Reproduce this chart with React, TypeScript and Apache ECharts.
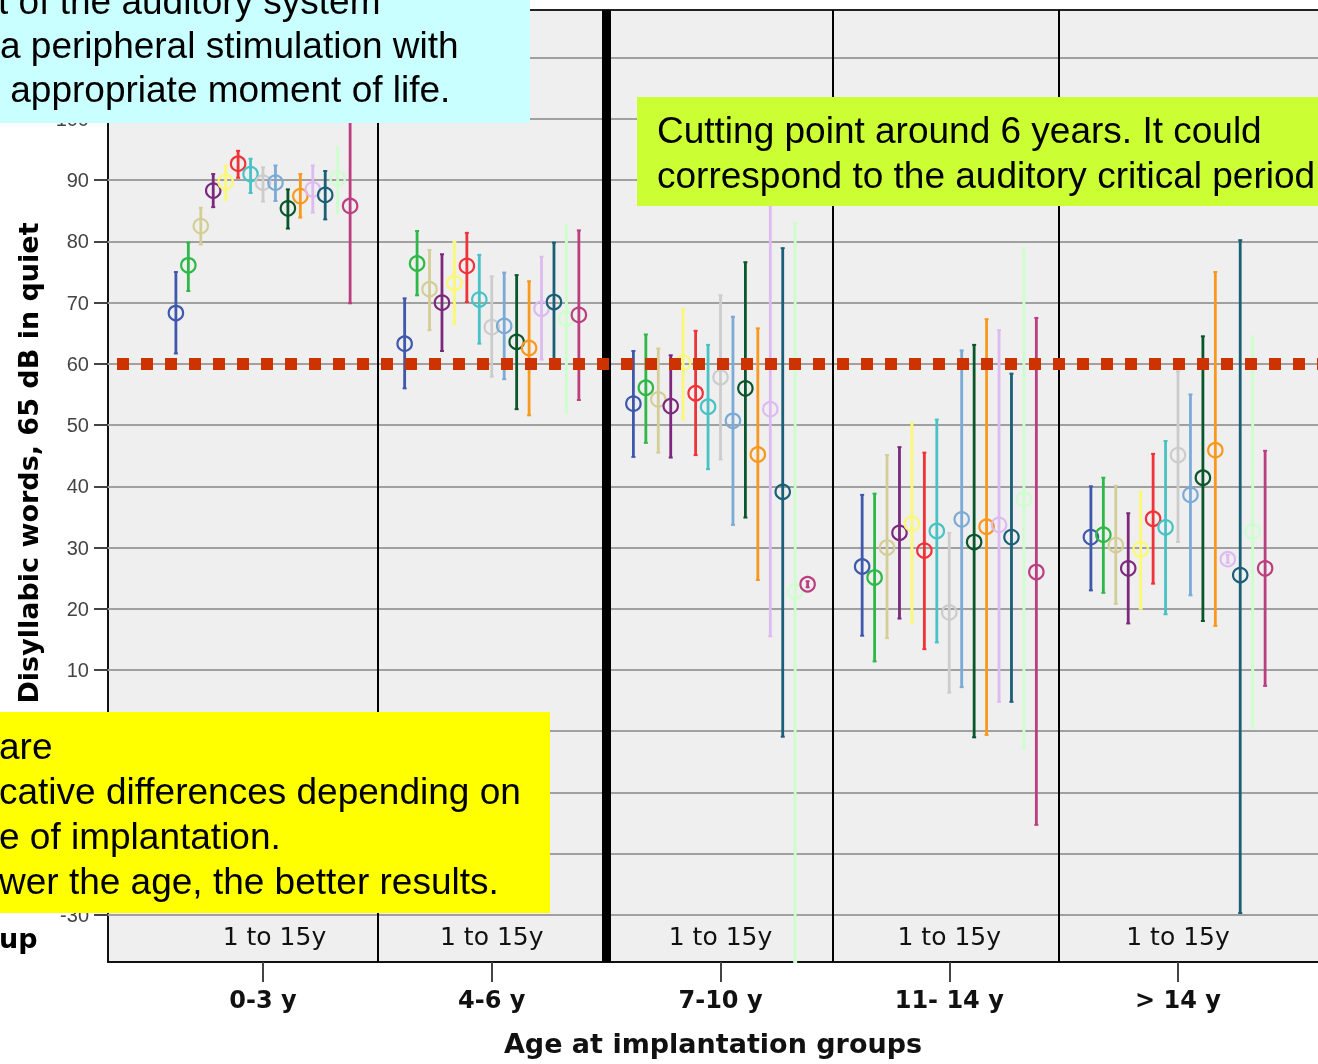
import React, { useEffect, useRef } from 'react';
import * as echarts from 'echarts';

// ---------- data ----------
const groupLabels = ['0-3 y', '4-6 y', '7-10 y', '11- 14 y', '> 14 y'];
const stripLabel = '1 to 15y';
const yTickValues = [-30, 10, 20, 30, 40, 50, 60, 70, 80, 90, 100];
const gridValues = [-30, -20, -10, 0, 10, 20, 30, 40, 50, 60, 70, 80, 90, 100, 110];
const cutoffValue = 60;
const separatorValues = [0.5, 1.5, 2.49, 3.485];

const subgroupColors = [
  '#3E58AC', '#2EB848', '#D3CE97', '#7C287D', '#FBF873',
  '#EF3338', '#48C2C5', '#CCCCCC', '#7AAAD5', '#0A562C',
  '#F8981D', '#DDBAF1', '#1A5F76', '#CCFFCC', '#BB3F7F',
];

// 0-3 y
const mean03 = [68.3, 76.1, 82.5, 88.3, 89.7, 92.7, 91.0, 89.6, 89.6, 85.4, 87.4, 88.5, 87.6, 90.3, 85.8];
const low03 = [61.7, 71.9, 79.5, 85.6, 86.8, 90.4, 87.9, 86.5, 86.6, 82.1, 83.9, 84.7, 83.6, 84.7, 69.9];
const high03 = [75.0, 79.8, 85.5, 91.0, 92.4, 94.8, 93.5, 92.1, 92.4, 88.5, 91.0, 92.4, 91.5, 95.4, 101.0];
// 4-6 y
const mean46 = [63.3, 76.4, 72.2, 70.0, 73.2, 76.0, 70.5, 66.0, 66.2, 63.6, 62.6, 69.0, 70.1, 67.4, 68.0];
const low46 = [56.0, 71.2, 65.5, 62.1, 66.5, 70.1, 63.3, 57.9, 57.5, 52.6, 51.6, 60.7, 60.7, 52.0, 54.1];
const high46 = [70.7, 81.7, 78.6, 77.9, 79.9, 81.4, 77.8, 74.3, 74.9, 74.5, 73.5, 77.5, 79.8, 82.7, 81.8];
// 7-10 y
const mean710 = [53.5, 56.1, 54.2, 53.1, 60.2, 55.2, 53.0, 57.8, 50.7, 56.0, 45.2, 52.6, 39.1, 22.8, 24.0];
const low710 = [44.8, 47.1, 45.5, 44.7, 50.9, 45.1, 42.8, 44.4, 33.7, 34.9, 24.7, 15.5, -0.9, -40.0, 23.5];
const high710 = [62.1, 64.8, 62.5, 61.4, 69.0, 65.4, 63.1, 71.2, 67.7, 76.6, 65.8, 85.9, 78.9, 83.0, 24.5];
// 11-14 y
const mean1114 = [26.9, 25.1, 30.0, 32.4, 33.9, 29.5, 32.7, 19.4, 34.6, 30.9, 33.4, 33.7, 31.7, 37.9, 26.0];
const low1114 = [15.6, 11.4, 15.2, 18.4, 17.7, 13.4, 14.5, 6.3, 7.2, -1.0, -0.6, 4.8, 4.8, -2.8, -15.3];
const high1114 = [38.6, 38.8, 45.1, 46.4, 50.3, 45.5, 50.9, 32.4, 62.2, 63.1, 67.3, 65.5, 58.4, 78.9, 67.5];
// > 14 y
const mean14 = [31.7, 32.1, 30.4, 26.6, 29.7, 34.7, 33.3, 45.1, 38.6, 41.4, 45.9, 28.1, 25.5, 32.6, 26.6];
const low14 = [23.0, 22.6, 20.8, 17.6, 20.0, 24.1, 19.1, 30.9, 22.2, 18.0, 17.2, 27.5, -29.7, 0.6, 7.4];
const high14 = [40.0, 41.4, 40.1, 35.6, 39.1, 45.3, 47.4, 58.8, 55.0, 64.5, 75.0, 28.8, 80.2, 64.5, 45.8];

const groupMeans = [mean03, mean46, mean710, mean1114, mean14];
const groupLows = [low03, low46, low710, low1114, low14];
const groupHighs = [high03, high46, high710, high1114, high14];

const cyanLines = ['t of the auditory system', 'a peripheral stimulation with', ' appropriate moment of life.'];
const limeLines = ['Cutting point around 6 years. It could', 'correspond to the auditory critical period'];
const yellowLines = ['are', 'cative differences depending on', 'e of implantation.', 'wer the age, the better results.'];
const yTitle = 'Disyllabic words, 65 dB in quiet';
const xTitle = 'Age at implantation groups';
const cutLegendText = 'up';

// ---------- layout constants ----------
const Y_MIN = -37.7;
const Y_MAX = 117.8;
const X_MIN = -0.6776;
const X_MAX = 4.612;
const STEP = 0.0544;
const STRIP_Y = -33.6;
const SANS = '"Liberation Sans", Arial, sans-serif';
const VERD = '"DejaVu Sans", Verdana, sans-serif';

function makeRender(k: number) {
  return (params: any, api: any) => {
    const g = api.value(0);
    const xv = g + (k - 7) * STEP;
    const clamp = (v: number) => Math.max(Y_MIN, Math.min(Y_MAX, v));
    const pHi = api.coord([xv, clamp(api.value(3))]);
    const pLo = api.coord([xv, clamp(api.value(2))]);
    const pM = api.coord([xv, api.value(1)]);
    const color = subgroupColors[k];
    return {
      type: 'group',
      children: [
        { type: 'line', shape: { x1: pHi[0], y1: pHi[1], x2: pLo[0], y2: pLo[1] }, style: { stroke: color, lineWidth: 2.8 } },
        { type: 'line', shape: { x1: pHi[0] - 2, y1: pHi[1], x2: pHi[0] + 2, y2: pHi[1] }, style: { stroke: color, lineWidth: 2 } },
        { type: 'line', shape: { x1: pLo[0] - 2, y1: pLo[1], x2: pLo[0] + 2, y2: pLo[1] }, style: { stroke: color, lineWidth: 2 } },
        { type: 'circle', shape: { cx: pM[0], cy: pM[1], r: 7.2 }, style: { fill: 'none', stroke: color, lineWidth: 2.2 } },
      ],
    };
  };
}

function renderStrip(params: any, api: any) {
  const p = api.coord([api.value(0), api.value(1)]);
  return {
    type: 'text',
    x: p[0],
    y: p[1],
    style: { text: stripLabel, fill: '#111', fontSize: 25, fontFamily: VERD, align: 'center', verticalAlign: 'middle' },
  };
}

function textEl(text: string, x: number, y: number, size: number, extra: any = {}) {
  return {
    type: 'text',
    x,
    y,
    z: 100,
    style: {
      text,
      fill: '#000',
      fontSize: size,
      fontFamily: SANS,
      verticalAlign: 'middle',
      align: 'left',
      ...extra,
    },
  };
}

export default function App() {
  const ref = useRef<HTMLDivElement>(null);

  useEffect(() => {
    if (!ref.current) return;
    document.body.style.margin = '0';
    const chart = echarts.init(ref.current, null, { renderer: 'svg' });

    const errorSeries = subgroupColors.map((_, k) => ({
      type: 'custom',
      z: 2,
      renderItem: makeRender(k),
      data: groupLabels.map((_, g) => [g, groupMeans[g][k], groupLows[g][k], groupHighs[g][k]]),
      silent: true,
    }));

    const graphics: any[] = [
      { type: 'rect', z: 90, shape: { x: 0, y: 0, width: 530, height: 123 }, style: { fill: '#c9ffff' } },
      ...cyanLines.map((t, i) => textEl(t, i === 0 ? -2 : 0, 1 + i * 44, 37)),
      { type: 'rect', z: 90, shape: { x: 637, y: 97, width: 720, height: 109 }, style: { fill: '#ccff33' } },
      ...limeLines.map((t, i) => textEl(t, 657, 130 + i * 45, 37)),
      { type: 'rect', z: 90, shape: { x: 0, y: 712, width: 550, height: 201 }, style: { fill: '#ffff00' } },
      ...yellowLines.map((t, i) => textEl(t, -1, 746 + i * 45, 37)),
      {
        type: 'text',
        x: 28,
        y: 463,
        rotation: Math.PI / 2,
        z: 50,
        style: { text: yTitle, fill: '#000', fontSize: 27, fontWeight: 'bold', fontFamily: VERD, align: 'center', verticalAlign: 'middle' },
      },
      textEl(cutLegendText, -1, 938, 27, { fontWeight: 'bold', fontFamily: VERD }),
    ];

    chart.setOption({
      animation: false,
      grid: { left: 108, top: 10, right: 0, bottom: 102, show: true, backgroundColor: '#efefef', borderWidth: 0 },
      xAxis: [
        {
          type: 'value',
          min: X_MIN,
          max: X_MAX,
          splitLine: { show: false },
          axisLine: { show: true, onZero: false, lineStyle: { color: '#111', width: 2 } },
          axisTick: { show: true, customValues: [0, 1, 2, 3, 4], length: 20, lineStyle: { color: '#444', width: 2 } },
          axisLabel: {
            show: true,
            customValues: [0, 1, 2, 3, 4],
            formatter: (v: number) => groupLabels[Math.round(v)],
            fontFamily: VERD,
            fontWeight: 'bold',
            fontSize: 24,
            color: '#111',
            margin: 26,
          },
          name: xTitle,
          nameLocation: 'middle',
          nameGap: 68,
          nameTextStyle: { fontFamily: VERD, fontWeight: 'bold', fontSize: 27, color: '#111' },
        },
        {
          type: 'value',
          position: 'top',
          min: X_MIN,
          max: X_MAX,
          splitLine: { show: false },
          axisLine: { show: true, onZero: false, lineStyle: { color: '#222', width: 2 } },
          axisTick: { show: false },
          axisLabel: { show: false },
        },
      ],
      yAxis: {
        type: 'value',
        min: Y_MIN,
        max: Y_MAX,
        splitLine: { show: false },
        axisLine: { show: true, onZero: false, lineStyle: { color: '#111', width: 2 } },
        axisTick: { show: true, customValues: yTickValues, length: 14, lineStyle: { color: '#444', width: 2 } },
        axisLabel: { show: true, customValues: yTickValues, fontFamily: SANS, fontSize: 20, color: '#444', margin: 19 },
      },
      series: [
        {
          type: 'line',
          data: [],
          silent: true,
          markLine: {
            z: 1,
            silent: true,
            symbol: 'none',
            label: { show: false },
            lineStyle: { color: '#a0a0a0', width: 2, type: 'solid' },
            data: gridValues.map((v) => ({ yAxis: v })),
          },
        },
        ...errorSeries,
        {
          type: 'line',
          data: [],
          silent: true,
          markLine: {
            z: 3,
            silent: true,
            symbol: 'none',
            label: { show: false },
            data: separatorValues.map((v) => ({
              xAxis: v,
              lineStyle: { color: '#000', width: v === 1.5 ? 9 : 2, type: 'solid' },
            })),
          },
        },
        {
          type: 'line',
          data: [],
          silent: true,
          markLine: {
            z: 4,
            silent: true,
            symbol: 'none',
            label: { show: false },
            lineStyle: { color: '#cc3300', width: 12, type: [12, 12], dashOffset: 15 },
            data: [{ yAxis: cutoffValue }],
          },
        },
        {
          type: 'custom',
          z: 5,
          silent: true,
          renderItem: renderStrip,
          data: groupLabels.map((_, i) => [i + (i === 0 ? 0.05 : 0), STRIP_Y]),
        },
      ],
      graphic: { elements: graphics },
    });

    return () => chart.dispose();
  }, []);

  return <div ref={ref} style={{ position: 'fixed', left: 0, top: 0, width: 1318, height: 1064 }} />;
}
